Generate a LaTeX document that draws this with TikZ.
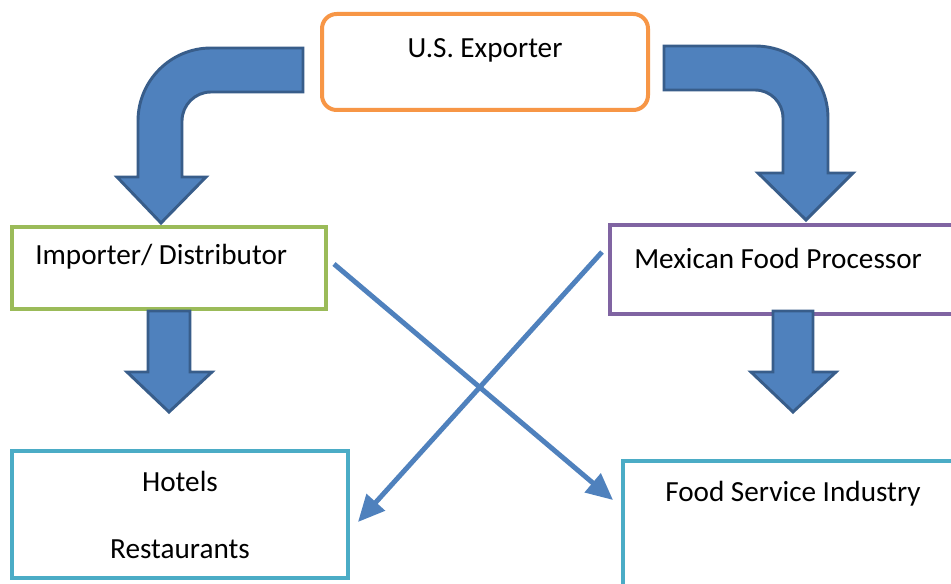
\documentclass[tikz,border=0pt]{standalone}
\usepackage{fontspec}
\setmainfont{Carlito}
\usetikzlibrary{arrows.meta,calc}
\definecolor{arrowfill}{HTML}{4F81BD}
\definecolor{arrowline}{HTML}{385D8A}
\definecolor{orangeb}{HTML}{F79646}
\definecolor{greenb}{HTML}{9BBB59}
\definecolor{purpleb}{HTML}{8064A2}
\definecolor{cyanb}{HTML}{4BACC6}
\tikzset{
  box/.style={draw, line width=3pt, rectangle, inner sep=0pt, fill=white},
  lbl/.style={inner sep=0pt, font=\fontsize{21.9}{26}\selectfont},
  blockarrow/.style={fill=arrowfill, draw=arrowline, line width=2.2pt, line join=miter},
  cross/.style={draw=arrowfill, line width=3.7pt, -{Triangle[length=20pt,width=18pt]}},
}
\begin{document}
\begin{tikzpicture}[x=0.75pt,y=-0.75pt]
\clip (0,0) rectangle (951,584);
\fill[white] (0,0) rectangle (951,584);
% boxes
\node[box, draw=orangeb, rounded corners=11pt, minimum width=244.5pt, minimum height=72pt] (exp) at (485,62) {};
\node[box, draw=greenb, minimum width=235.5pt, minimum height=61.5pt] (imp) at (169,268) {};
\node[box, draw=purpleb, minimum width=262.5pt, minimum height=66.75pt] (mex) at (785,269.5) {};
\node[box, draw=cyanb, minimum width=252pt, minimum height=95.25pt] (hot) at (180,514.5) {};
\node[box, draw=cyanb, minimum width=252.75pt, minimum height=104.25pt] (fsi) at (791.5,530.5) {};
% texts
\node[lbl, anchor=base] (texp) at (485,58) {U.S. Exporter};
\node[lbl, anchor=base west] (timp) at (35,265) {Importer/ Distributor};
\node[lbl, anchor=base west] (tmex) at (634,269) {Mexican Food Processor};
\node[lbl, anchor=base] (thot) at (180,492) {Hotels};
\node[lbl, anchor=base] (tres) at (180,559) {Restaurants};
\node[lbl, anchor=base west] (tfsi) at (665,502) {Food Service Industry};
% bent arrows
\draw[blockarrow] (303,48) -- (211,48) .. controls (170.7,48) and (138,80.7) .. (138,121)
  -- (138,177) -- (117,177) -- (161,223) -- (206,177) -- (182,177) -- (182,121)
  .. controls (182,105) and (195,92) .. (211,92) -- (303,92) -- cycle;
\draw[blockarrow] (664,46) -- (755,46) .. controls (795.3,46) and (828,77.7) .. (828,118)
  -- (828,173) -- (853,173) -- (806,220) -- (758,173) -- (783,173) -- (783,118)
  .. controls (783,102.5) and (770.5,90) .. (755,90) -- (664,90) -- cycle;
% straight arrows
\draw[blockarrow] (148,311) -- (190,311) -- (190,372) -- (212,372) -- (169,412) -- (127,372) -- (148,372) -- cycle;
\draw[blockarrow] (773,311) -- (813,311) -- (813,372) -- (836,372) -- (793,412) -- (751,372) -- (773,372) -- cycle;
% cross connectors
\draw[cross] ($(imp.east)+(6,-4)$) -- ($(fsi.west)+(-8,-30.5)$);
\draw[cross] ($(mex.west)+(-6,-17.5)$) -- ($(hot.east)+(8,7.5)$);
\end{tikzpicture}
\end{document}
